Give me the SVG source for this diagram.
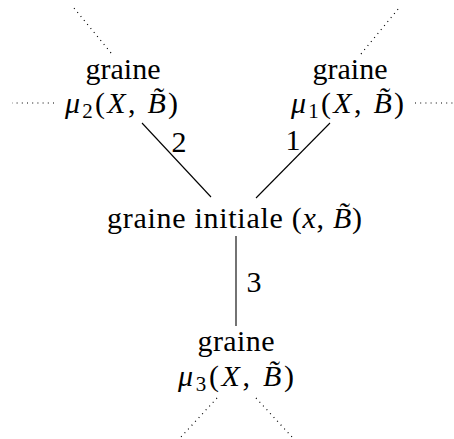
<svg xmlns="http://www.w3.org/2000/svg" width="454" height="439" viewBox="0 0 454 439">
<style>
text{font-family:"Liberation Serif","DejaVu Serif",serif;font-size:30px;fill:#000;text-anchor:middle}
.i{font-style:italic}
.s{font-size:21px}
.e{stroke:#000;stroke-width:1.1;fill:none}
.d{stroke:#000;stroke-width:1.2;fill:none;stroke-dasharray:1 4.2}
</style>
<g id="connectors">
<line class="e" x1="142" y1="123" x2="211" y2="197"/>
<line class="e" x1="330" y1="123" x2="256" y2="198"/>
<line class="e" x1="236" y1="236" x2="236" y2="326"/>
<line class="d" x1="111" y1="53" x2="74" y2="8"/>
<line class="d" x1="54" y1="103" x2="12" y2="103"/>
<line class="d" x1="361" y1="54" x2="399" y2="8"/>
<line class="d" x1="415" y1="103" x2="454" y2="103"/>
<line class="d" x1="217" y1="398" x2="181" y2="437"/>
<line class="d" x1="256" y1="398" x2="292" y2="437"/>
<text x="179" y="152">2</text>
<text x="293" y="150">1</text>
<text x="254" y="292">3</text>
</g>
<g id="n2">
<text x="123" y="79" textLength="75" lengthAdjust="spacing">graine</text>
<text x="121.5" y="113" textLength="113" lengthAdjust="spacing"><tspan class="i">μ</tspan><tspan class="s" dy="5">2</tspan><tspan dy="-5">(</tspan><tspan class="i">X</tspan>, <tspan class="i">B̃</tspan>)</text>
</g>
<g id="n1">
<text x="350" y="79" textLength="75" lengthAdjust="spacing">graine</text>
<text x="347.5" y="113" textLength="113" lengthAdjust="spacing"><tspan class="i">μ</tspan><tspan class="s" dy="5">1</tspan><tspan dy="-5">(</tspan><tspan class="i">X</tspan>, <tspan class="i">B̃</tspan>)</text>
</g>
<g id="n0">
<text x="234.5" y="228" textLength="255" lengthAdjust="spacing">graine initiale (<tspan class="i">x</tspan>, <tspan class="i">B̃</tspan>)</text>
</g>
<g id="n3">
<text x="236" y="351" textLength="77" lengthAdjust="spacing">graine</text>
<text x="236" y="386" textLength="116" lengthAdjust="spacing"><tspan class="i">μ</tspan><tspan class="s" dy="5">3</tspan><tspan dy="-5">(</tspan><tspan class="i">X</tspan>, <tspan class="i">B̃</tspan>)</text>
</g>
</svg>
